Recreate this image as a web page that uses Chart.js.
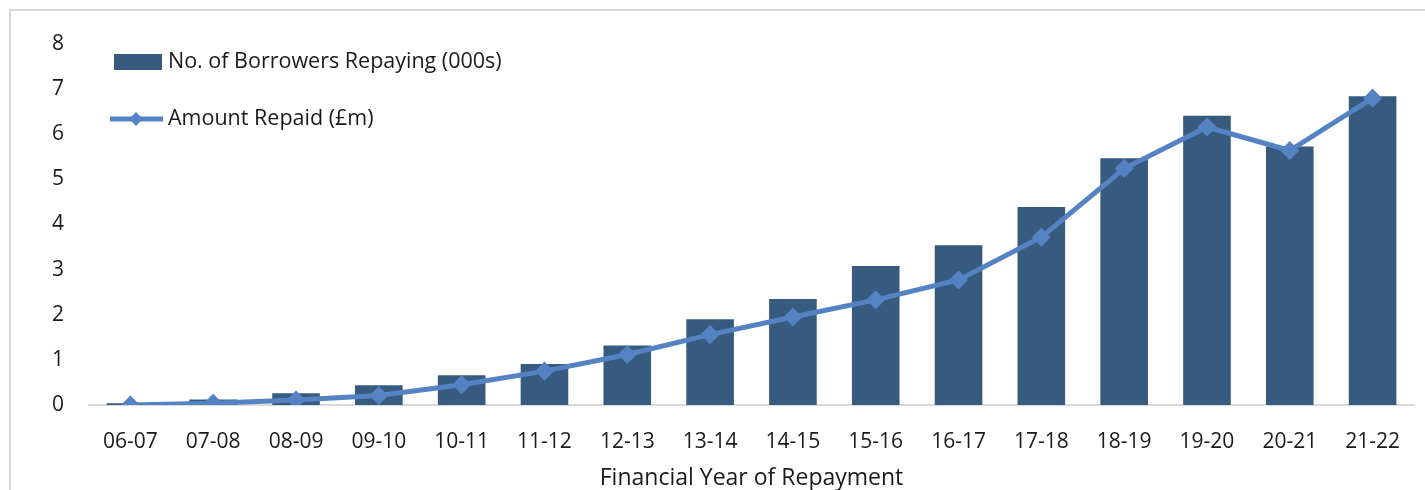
<!DOCTYPE html>
<html>
<head>
<meta charset="utf-8">
<script src="https://cdn.jsdelivr.net/npm/chart.js@4"></script>
<style>
  body { margin: 0; background: #fff; overflow: hidden; }
  #frame { position: absolute; left: 9px; top: 9px; width: 1430px; height: 500px;
           border-left: 2px solid #d9d9d9; border-top: 2px solid #d9d9d9; }
  #wrap { position: absolute; left: 0; top: 0; width: 1425px; height: 490px; }
</style>
</head>
<body>
<div id="frame"></div>
<div id="wrap"><canvas id="repayChart"></canvas></div>
<script>
// data
const years = ['06-07', '07-08', '08-09', '09-10', '10-11', '11-12', '12-13', '13-14',
               '14-15', '15-16', '16-17', '17-18', '18-19', '19-20', '20-21', '21-22'];
const borrowers = [0.04, 0.12, 0.26, 0.44, 0.66, 0.91, 1.32, 1.90,
                   2.35, 3.08, 3.54, 4.39, 5.47, 6.41, 5.73, 6.84];
const amountRepaid = [0.0, 0.04, 0.11, 0.21, 0.45, 0.75, 1.12, 1.56,
                      1.95, 2.33, 2.77, 3.72, 5.24, 6.16, 5.64, 6.80];
const yTicks = [0, 1, 2, 3, 4, 5, 6, 7, 8];

const barColor = '#375a7f';
const lineColor = '#5482c2';
const fontFamily = '"Open Sans", Lato, sans-serif';
const textColor = '#1a1a1a';

// legend drawn inside the plot, stacked vertically (like the Excel one)
const insideLegend = {
    id: 'insideLegend',
    afterDraw(chart) {
        const c = chart.ctx;
        const a = chart.chartArea;
        const x0 = a.left + 25;
        c.save();
        c.font = '21.5px ' + fontFamily;
        c.textBaseline = 'middle';

        // bar entry
        c.fillStyle = barColor;
        c.fillRect(x0, a.top + 10, 48, 16);
        c.fillStyle = textColor;
        c.fillText(chart.data.datasets[0].label, x0 + 54, a.top + 18);

        // line entry
        const ly = a.top + 75;
        c.strokeStyle = lineColor;
        c.lineWidth = 5;
        c.beginPath();
        c.moveTo(x0 - 4, ly);
        c.lineTo(x0 + 49, ly);
        c.stroke();
        c.fillStyle = lineColor;
        c.beginPath();
        c.moveTo(x0 + 22, ly - 7);
        c.lineTo(x0 + 29, ly);
        c.lineTo(x0 + 22, ly + 7);
        c.lineTo(x0 + 15, ly);
        c.closePath();
        c.fill();
        c.fillStyle = textColor;
        c.fillText(chart.data.datasets[1].label, x0 + 54, ly);
        c.restore();
    }
};

const ctx = document.getElementById('repayChart').getContext('2d');
const repayChart = new Chart(ctx, {
    type: 'bar',
    data: {
        labels: years,
        datasets: [{
            type: 'bar',
            label: 'No. of Borrowers Repaying (000s)',
            data: borrowers,
            backgroundColor: barColor,
            barPercentage: 0.575,
            categoryPercentage: 1,
            order: 1
        }, {
            type: 'line',
            label: 'Amount Repaid (£m)',
            data: amountRepaid,
            borderColor: lineColor,
            backgroundColor: lineColor,
            borderWidth: 5,
            pointStyle: 'rectRot',
            pointRadius: 6,
            pointHoverRadius: 6,
            tension: 0,
            order: 0
        }]
    },
    options: {
        responsive: true,
        maintainAspectRatio: false,
        animation: false,
        layout: { padding: { top: 44, right: 10, left: 0, bottom: 0 } },
        plugins: {
            legend: { display: false },
            tooltip: { enabled: false }
        },
        scales: {
            x: {
                afterFit: scale => { scale.height = 85; },
                grid: { display: false, drawTicks: false },
                border: { display: true, color: '#d9d9d9', width: 2 },
                ticks: { color: textColor, font: { family: fontFamily, size: 21 }, padding: 24, maxRotation: 0 },
                title: {
                    display: true,
                    text: 'Financial Year of Repayment',
                    color: textColor,
                    font: { family: fontFamily, size: 23, lineHeight: 1.0 },
                    padding: { top: 0, bottom: 0 }
                }
            },
            y: {
                min: 0,
                max: 8,
                afterBuildTicks: scale => { scale.ticks = yTicks.map(v => ({ value: v })); },
                afterFit: scale => { scale.width = 89; },
                grid: { display: false, drawTicks: false },
                border: { display: false },
                ticks: { color: textColor, font: { family: fontFamily, size: 21 }, padding: 25 }
            }
        }
    },
    plugins: [insideLegend]
});
</script>
</body>
</html>
